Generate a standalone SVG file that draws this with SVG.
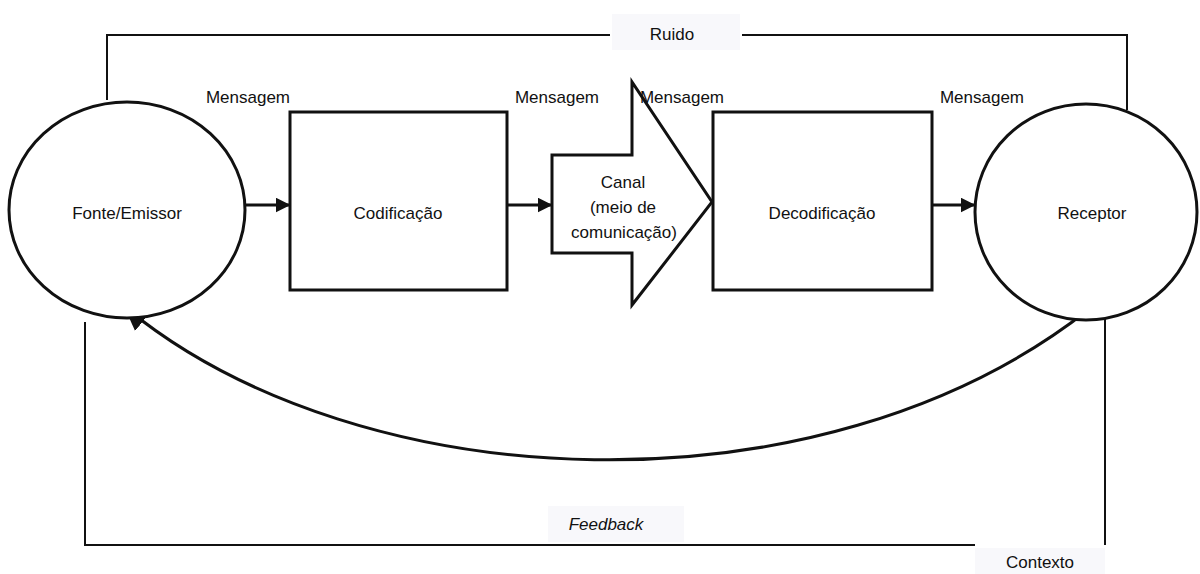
<svg xmlns="http://www.w3.org/2000/svg" width="1200" height="574" viewBox="0 0 1200 574">
<defs>
<style>
.ln{fill:none;stroke:#111;stroke-width:3}
.thin{fill:none;stroke:#111;stroke-width:2}
.nd{fill:#fff;stroke:#111;stroke-width:3}
text{font-family:"Liberation Sans",Arial,sans-serif;font-size:17px;fill:#111}
.c{text-anchor:middle}
.lb{fill:#f8f8fb;stroke:none}
</style>
<marker id="ah" viewBox="0 0 10 10" refX="9" refY="5" markerWidth="5" markerHeight="5" orient="auto" markerUnits="strokeWidth">
<path d="M0,0 L10,5 L0,10 z" fill="#111"/>
</marker>
<marker id="ah2" viewBox="0 0 10 10" refX="9" refY="5" markerWidth="8" markerHeight="8" orient="auto" markerUnits="strokeWidth">
<path d="M0,0 L10,5 L0,10 z" fill="#111"/>
</marker>
</defs>
<rect width="1200" height="574" fill="#fff"/>
<g id="context-labels">
<rect class="lb" x="612" y="14" width="128" height="36"/>
<rect class="lb" x="548" y="506" width="136" height="36"/>
<rect class="lb" x="975" y="548" width="130" height="26"/>
</g>
<g id="connectors">
<polyline class="thin" points="107,100 107,35 610,35"/>
<polyline class="thin" points="742,35 1127,35 1127,110"/>
<polyline class="thin" points="85,322 85,545 975,545"/>
<line class="thin" x1="1105" y1="310" x2="1105" y2="545"/>
<line class="ln" x1="245" y1="205" x2="289" y2="205" marker-end="url(#ah)"/>
<line class="ln" x1="507" y1="205" x2="551" y2="205" marker-end="url(#ah)"/>
<line class="ln" x1="932" y1="205" x2="974" y2="205" marker-end="url(#ah)"/>
<path class="ln" d="M1088,310 C820,520 360,500 126,308" marker-end="url(#ah2)"/>
</g>
<g id="fonte">
<ellipse class="nd" cx="127" cy="210" rx="118" ry="108"/>
<text class="c" x="127" y="219">Fonte/Emissor</text>
</g>
<g id="codificacao">
<rect class="nd" x="290" y="112" width="217" height="178"/>
<text class="c" x="398" y="219">Codificação</text>
</g>
<g id="canal">
<path class="nd" d="M552,155 L632,155 L632,82 L712,202 L632,305 L632,253 L552,253 Z"/>
<text class="c" x="623" y="188">Canal</text>
<text class="c" x="623" y="213">(meio de</text>
<text class="c" x="624" y="238">comunicação)</text>
</g>
<g id="decodificacao">
<rect class="nd" x="713" y="112" width="219" height="178"/>
<text class="c" x="822" y="219">Decodificação</text>
</g>
<g id="receptor">
<ellipse class="nd" cx="1086" cy="212" rx="111" ry="108"/>
<text class="c" x="1092" y="219">Receptor</text>
</g>
<g id="labels">
<text class="c" x="248" y="103">Mensagem</text>
<text class="c" x="557" y="103">Mensagem</text>
<text class="c" x="682" y="103">Mensagem</text>
<text class="c" x="982" y="103">Mensagem</text>
<text class="c" x="672" y="40">Ruido</text>
<text class="c" x="606" y="530" font-style="italic">Feedback</text>
<text class="c" x="1040" y="568">Contexto</text>
</g>
</svg>
